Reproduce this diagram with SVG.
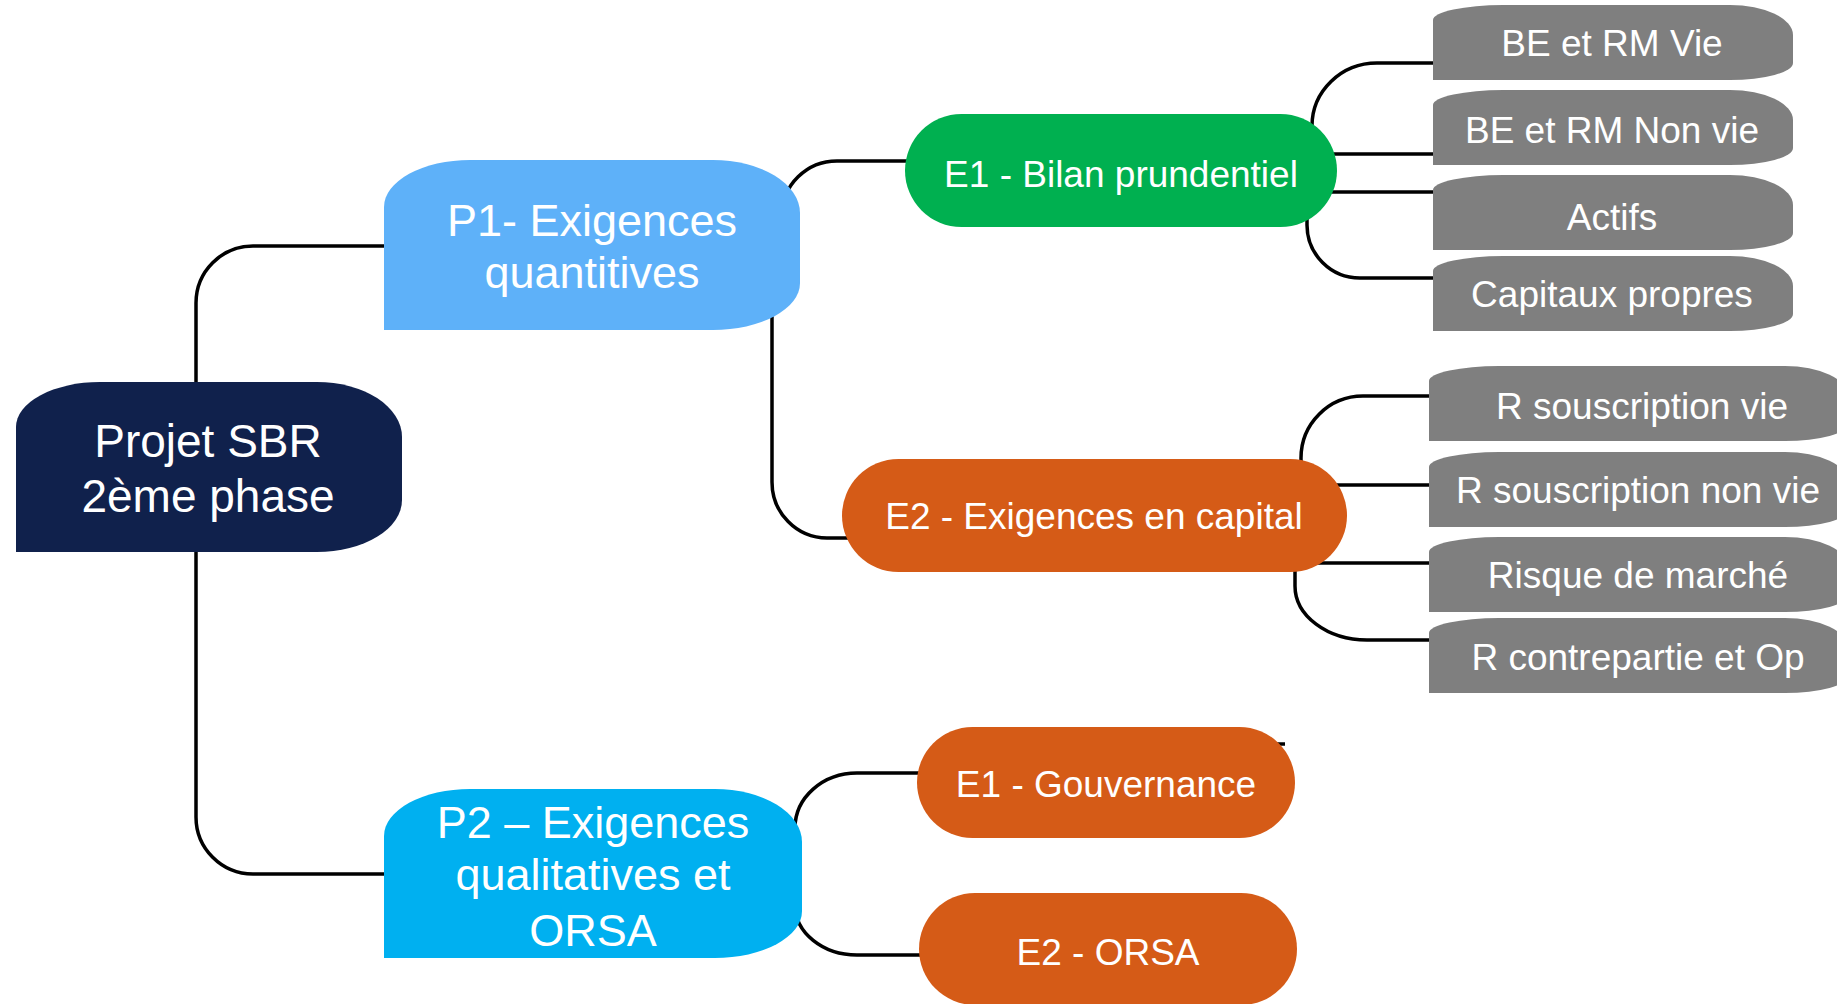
<svg xmlns="http://www.w3.org/2000/svg" width="1837" height="1004" viewBox="0 0 1837 1004">
  <style>
    .link { fill: none; stroke: #000; stroke-width: 3.5; stroke-linecap: butt; }
    .lbl { fill: #fff; font-family: "Liberation Sans", Arial, sans-serif; text-anchor: middle; }
    .big { font-size: 45px; }
    .root { font-size: 46px; }
    .mid { font-size: 37px; }
    .small { font-size: 37px; }
    .leaf { fill: #7f7f7f; }
    .orange { fill: #d55b17; }
  </style>
  <defs>
    <!-- leaf shape: square bottom-left corner, rounded elsewhere -->
    <path id="leafA" d="M0,75 L0,15 A70,15 0 0 1 70,0 L297,0 A63,30 0 0 1 360,30 L360,58 A63,17 0 0 1 297,75 Z"/>
    <path id="leafB" d="M0,75 L0,15 A70,15 0 0 1 70,0 L356,0 A63,30 0 0 1 419,30 L419,58 A63,17 0 0 1 356,75 Z"/>
  </defs>

  <rect width="1837" height="1004" fill="#fff"/>

  <!-- connectors -->
  <g id="connectors">
    <path class="link" d="M196,400 L196,303 A57,57 0 0 1 253,246 L386,246"/>
    <path class="link" d="M196,540 L196,817 A57,57 0 0 0 253,874 L386,874"/>
    <path class="link" d="M782,240 L782,215 A55,54 0 0 1 837,161 L912,161"/>
    <path class="link" d="M772,300 L772,482 A55,56 0 0 0 827,538 L860,538"/>
    <path class="link" d="M795,840 L795,828 A62,55 0 0 1 857,773 L925,773"/>
    <path class="link" d="M795,900 L795,905 A62,50 0 0 0 857,955 L925,955"/>
    <path class="link" d="M1270,744 L1285,744"/>
    <path class="link" d="M1312,140 L1312,126 A65,63 0 0 1 1377,63 L1435,63"/>
    <path class="link" d="M1320,154 L1435,154"/>
    <path class="link" d="M1320,192 L1435,192"/>
    <path class="link" d="M1307,200 L1307,225 A53,53 0 0 0 1360,278 L1435,278"/>
    <path class="link" d="M1301,470 L1301,458 A62,62 0 0 1 1363,396 L1431,396"/>
    <path class="link" d="M1320,485 L1431,485"/>
    <path class="link" d="M1310,563 L1431,563"/>
    <path class="link" d="M1295,560 L1295,586 A72,54 0 0 0 1367,640 L1431,640"/>
  </g>

  <!-- root -->
  <g id="root">
    <path d="M16,552 L16,427 A84,45 0 0 1 100,382 L317,382 A85,55 0 0 1 402,437 L402,500 A85,52 0 0 1 317,552 Z" fill="#10214c"/>
    <text class="lbl root" x="208" y="457">Projet SBR</text>
    <text class="lbl root" x="208" y="512">2ème phase</text>
  </g>

  <!-- level 1 -->
  <g id="p1">
    <path d="M384,330 L384,207 A86,47 0 0 1 470,160 L713,160 A87,53 0 0 1 800,213 L800,283 A87,47 0 0 1 713,330 Z" fill="#5eb1f9"/>
    <text class="lbl big" x="592" y="236">P1- Exigences</text>
    <text class="lbl big" x="592" y="288">quantitives</text>
  </g>
  <g id="p2">
    <path d="M384,958 L384,836 A86,47 0 0 1 470,789 L715,789 A87,53 0 0 1 802,842 L802,911 A87,47 0 0 1 715,958 Z" fill="#00b0f0"/>
    <text class="lbl big" x="593" y="838">P2 – Exigences</text>
    <text class="lbl big" x="593" y="890">qualitatives et</text>
    <text class="lbl big" x="593" y="946">ORSA</text>
  </g>

  <!-- level 2 -->
  <g id="e1-bilan">
    <rect x="905" y="114" width="432" height="113" rx="56.5" fill="#00b050"/>
    <text class="lbl mid" x="1121" y="187">E1 - Bilan prundentiel</text>
  </g>
  <g id="e2-capital">
    <rect class="orange" x="842" y="459" width="505" height="113" rx="56.5"/>
    <text class="lbl mid" x="1094" y="529">E2 - Exigences en capital</text>
  </g>
  <g id="e1-gouvernance">
    <rect class="orange" x="917" y="727" width="378" height="111" rx="55.5"/>
    <text class="lbl mid" x="1106" y="797">E1 - Gouvernance</text>
  </g>
  <g id="e2-orsa">
    <rect class="orange" x="919" y="893" width="378" height="112" rx="56"/>
    <text class="lbl mid" x="1108" y="965">E2 - ORSA</text>
  </g>

  <!-- level 3: balance sheet items -->
  <g id="be-rm-vie">
    <use href="#leafA" class="leaf" x="1433" y="5"/>
    <text class="lbl small" x="1612" y="56">BE et RM Vie</text>
  </g>
  <g id="be-rm-non-vie">
    <use href="#leafA" class="leaf" x="1433" y="90"/>
    <text class="lbl small" x="1612" y="143">BE et RM Non vie</text>
  </g>
  <g id="actifs">
    <use href="#leafA" class="leaf" x="1433" y="175"/>
    <text class="lbl small" x="1612" y="230">Actifs</text>
  </g>
  <g id="capitaux-propres">
    <use href="#leafA" class="leaf" x="1433" y="256"/>
    <text class="lbl small" x="1612" y="307">Capitaux propres</text>
  </g>

  <!-- level 3: capital requirement risks -->
  <g id="r-souscription-vie">
    <use href="#leafB" class="leaf" x="1429" y="366"/>
    <text class="lbl small" x="1642" y="419">R souscription vie</text>
  </g>
  <g id="r-souscription-non-vie">
    <use href="#leafB" class="leaf" x="1429" y="452"/>
    <text class="lbl small" x="1638" y="503">R souscription non vie</text>
  </g>
  <g id="risque-marche">
    <use href="#leafB" class="leaf" x="1429" y="537"/>
    <text class="lbl small" x="1638" y="588">Risque de marché</text>
  </g>
  <g id="r-contrepartie">
    <use href="#leafB" class="leaf" x="1429" y="618"/>
    <text class="lbl small" x="1638" y="670">R contrepartie et Op</text>
  </g>
</svg>
